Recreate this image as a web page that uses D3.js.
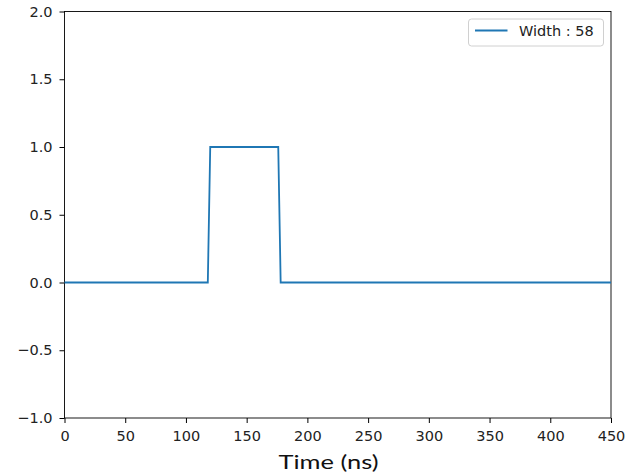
<!DOCTYPE html>
<html>
<head>
<meta charset="utf-8">
<script src="https://cdn.jsdelivr.net/npm/d3@7"></script>
<style>
  html, body { margin: 0; padding: 0; background: #fff; }
  svg text { font-family: "DejaVu Sans", sans-serif; }
</style>
</head>
<body>
<div id="chart"></div>
<script>
// pulse samples (time in ns, amplitude)
const times = [0, 118, 120, 176, 178, 450];
const amplitudes = [0, 0, 1, 1, 0, 0];
const xTicks = [0, 50, 100, 150, 200, 250, 300, 350, 400, 450];
const yTicks = [-1.0, -0.5, 0.0, 0.5, 1.0, 1.5, 2.0];
const seriesLabel = "Width : 58";
const xLabel = "Time (ns)";

const width = 628, height = 476;
const margin = { top: 11.5, right: 17, bottom: 58, left: 64.5 };
const tickFont = 14.5;

const svg = d3.select("#chart").append("svg")
    .attr("width", width)
    .attr("height", height);

const x = d3.scaleLinear().domain([0, 450]).range([margin.left, width - margin.right]);
const y = d3.scaleLinear().domain([-1, 2]).range([height - margin.bottom, margin.top]);

const fmt = d3.format(".1f");
const minus = v => fmt(v).replace("-", "\u2212");

// x axis
svg.append("g")
    .attr("transform", `translate(0,${y(-1)})`)
    .call(d3.axisBottom(x).tickValues(xTicks).tickSize(5).tickPadding(8).tickFormat(d3.format("d")))
    .call(g => g.selectAll("text").attr("font-size", tickFont).attr("fill", "#222").attr("font-family", "DejaVu Sans"))
    .call(g => g.select(".domain").remove());

// y axis
svg.append("g")
    .attr("transform", `translate(${x(0)},0)`)
    .call(d3.axisLeft(y).tickValues(yTicks).tickSize(5).tickPadding(7).tickFormat(minus))
    .call(g => g.selectAll("text").attr("font-size", tickFont).attr("fill", "#222").attr("font-family", "DejaVu Sans"))
    .call(g => g.select(".domain").remove());

// frame
svg.append("rect")
    .attr("x", x(0)).attr("y", y(2))
    .attr("width", x(450) - x(0)).attr("height", y(-1) - y(2))
    .attr("fill", "none").attr("stroke", "#000").attr("stroke-width", 0.9);

// pulse line
const points = times.map((t, i) => [t, amplitudes[i]]);
svg.append("path")
    .datum(points)
    .attr("fill", "none")
    .attr("stroke", "#1f77b4")
    .attr("stroke-width", 1.8)
    .attr("d", d3.line().x(d => x(d[0])).y(d => y(d[1])));

// legend
const legend = svg.append("g").attr("transform", "translate(468.5,19)");
legend.append("rect")
    .attr("width", 135).attr("height", 27).attr("rx", 3)
    .attr("fill", "#fff").attr("fill-opacity", 0.8)
    .attr("stroke", "#d0d0d0").attr("stroke-width", 1);
legend.append("line")
    .attr("x1", 6.5).attr("x2", 39).attr("y1", 11.5).attr("y2", 11.5)
    .attr("stroke", "#1f77b4").attr("stroke-width", 1.8);
legend.append("text")
    .attr("x", 50.5).attr("y", 17.3)
    .attr("font-size", tickFont).attr("fill", "#222")
    .text(seriesLabel);

// x label
svg.append("text")
    .attr("x", 278.5).attr("y", 468.5)
    .attr("font-size", 20)
    .attr("fill", "#111")
    .attr("textLength", 100)
    .attr("lengthAdjust", "spacingAndGlyphs")
    .style("font-family", "Lato, Carlito, 'Open Sans', sans-serif")
    .text(xLabel);
</script>
</body>
</html>
